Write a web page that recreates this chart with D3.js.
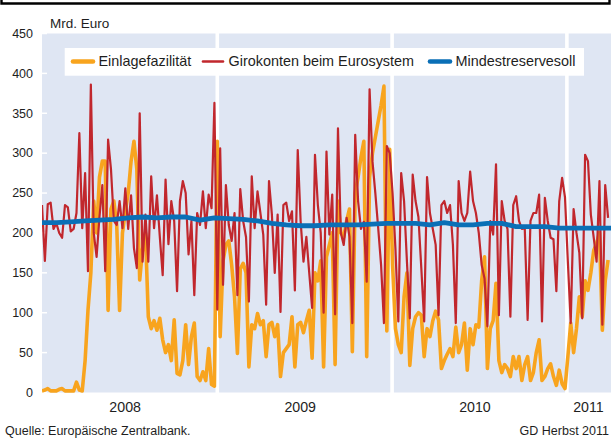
<!DOCTYPE html>
<html>
<head>
<meta charset="utf-8">
<script src="https://cdn.jsdelivr.net/npm/d3@7"></script>
<style>
    body { margin: 0; background: #fff; }
    svg { display: block; font-family: "Liberation Sans", Arial, sans-serif; }
</style>
</head>
<body>
<svg id="chart" width="612" height="438"></svg>
<script>
// Zeitachse: ein Wert alle 6 Tage ab Anfang 2008
const startDate = new Date(2008, 0, 1);
const endDate = new Date(2011, 3, 1);
const stepDays = 6;
const reserveStepDays = 30;

// Einlagefazilität, Mrd. Euro
const einlagefazilitaet = [
    2, 3, 5, 2, 2, 2, 4, 5, 2, 2, 2, 2, 13, 3, 2, 40, 103, 150, 240, 200,
    270, 290, 290, 103, 230, 240, 210, 103, 200, 227, 250, 290, 315, 280, 141, 180, 200, 95, 80, 90,
    78, 93, 66, 50, 60, 40, 91, 24, 22, 40, 85, 35, 70, 87, 20, 15, 26, 15, 55, 10,
    8, 315, 70, 165, 185, 190, 160, 120, 49, 155, 162, 150, 32, 85, 80, 99, 85, 90, 45, 85,
    88, 70, 85, 20, 50, 55, 60, 95, 32, 85, 88, 75, 90, 103, 43, 150, 140, 165, 32, 170,
    185, 200, 35, 240, 200, 195, 215, 230, 51, 250, 270, 295, 315, 45, 270, 300, 320, 340, 360, 384,
    77, 305, 160, 80, 60, 50, 120, 150, 34, 80, 95, 100, 97, 45, 80, 70, 90, 102, 91, 30,
    40, 48, 55, 45, 82, 50, 60, 87, 28, 80, 60, 85, 82, 140, 170, 30, 80, 90, 137, 40,
    25, 35, 30, 20, 45, 30, 45, 15, 35, 45, 15, 25, 50, 66, 15, 20, 30, 36, 20, 9,
    28, 11, 5, 45, 87, 50, 80, 120, 95, 140, 128, 150, 178, 187, 200, 78, 140, 166
];

// Girokonten beim Eurosystem, Mrd. Euro
const girokonten = [
    235, 165, 236, 238, 205, 212, 200, 194, 235, 232, 202, 205, 225, 325, 206, 275, 152, 386, 200, 170,
    220, 260, 152, 317, 280, 215, 210, 240, 206, 256, 205, 247, 181, 156, 350, 164, 223, 164, 271, 206,
    247, 195, 147, 267, 186, 240, 215, 127, 240, 265, 250, 173, 215, 122, 225, 210, 252, 206, 248, 231,
    363, 104, 306, 135, 260, 210, 190, 225, 122, 255, 215, 195, 114, 271, 206, 252, 225, 198, 110, 265,
    223, 150, 223, 101, 235, 238, 215, 227, 128, 304, 215, 164, 195, 150, 106, 298, 235, 200, 100, 302,
    198, 248, 98, 331, 200, 185, 219, 195, 87, 323, 240, 205, 214, 139, 380, 290, 250, 206, 160, 87,
    309, 300, 250, 180, 89, 275, 240, 164, 93, 273, 240, 220, 156, 89, 270, 225, 205, 185, 97, 235,
    240, 225, 235, 185, 87, 265, 225, 215, 225, 277, 240, 225, 200, 160, 143, 83, 215, 198, 286, 97,
    240, 215, 205, 95, 235, 246, 215, 205, 206, 91, 215, 225, 225, 248, 89, 244, 215, 194, 192, 127,
    240, 269, 245, 164, 87, 230, 200, 175, 93, 298, 290, 223, 194, 164, 265, 85, 260, 219
];

// Mindestreservesoll, Mrd. Euro (ein Wert alle 30 Tage)
const mindestreservesoll = [
    213, 213, 214, 215, 216, 217, 219, 220, 219, 220, 220, 216, 219, 218, 217, 215, 212, 210, 209, 209,
    210, 210, 210, 211, 212, 212, 212, 210, 213, 210, 210, 212, 212, 208, 208, 208, 206, 206, 206, 206, 206
];

const yearLabels = ["2008", "2009", "2010", "2011"];
const yTicks = [0, 50, 100, 150, 200, 250, 300, 350, 400, 450];

const seriesNames = ["Einlagefazilität", "Girokonten beim Eurosystem", "Mindestreservesoll"];
const colors = ["#f8a41e", "#c1272d", "#0a6fb6"];
const widths = [3.6, 2.2, 4.8];

const svg = d3.select("#chart");
const plotLeft = 42, plotRight = 610, plotTop = 33.5, plotBottom = 392.5;

const x = d3.scaleTime().domain([startDate, endDate]).range([plotLeft, plotRight]);
const y = d3.scaleLinear().domain([0, 450]).range([plotBottom, plotTop]);

// Rahmenlinie oben
svg.append("path")
    .attr("d", "M1.5,0V3.5H609.5V0")
    .attr("fill", "none")
    .attr("stroke", "#000")
    .attr("stroke-width", 2.4);

// Hintergrundflächen je Jahr
const gap = 3.6;
yearLabels.forEach((yr, i) => {
    const s = new Date(+yr, 0, 1), e = new Date(+yr + 1, 0, 1);
    let x0 = Math.max(x(s), plotLeft), x1 = Math.min(x(e), plotRight + 1);
    if (i > 0) x0 += gap / 2;
    if (x(e) < plotRight) x1 -= gap / 2;
    svg.append("rect")
        .attr("x", x0).attr("y", plotTop)
        .attr("width", x1 - x0).attr("height", plotBottom - plotTop)
        .attr("fill", "#dfe6f3");

    const mid = (Math.max(x(s), plotLeft) + Math.min(x(e), plotRight)) / 2;
    svg.append("text")
        .attr("x", x(e) < plotRight ? mid - 4.5 : mid)
        .attr("y", 412)
        .attr("text-anchor", "middle")
        .attr("font-size", "14.2px")
        .attr("fill", "#1e1e1e")
        .text(yr);
});

// y-Achse: weiße Striche und Beschriftung
svg.selectAll(".ytick")
    .data(yTicks)
    .enter().append("line")
    .attr("class", "ytick")
    .attr("x1", plotLeft).attr("x2", plotLeft + 5)
    .attr("y1", d => y(d)).attr("y2", d => y(d))
    .attr("stroke", "#fff")
    .attr("stroke-width", 1.5);

svg.selectAll(".ylabel")
    .data(yTicks)
    .enter().append("text")
    .attr("class", "ylabel")
    .attr("x", 33)
    .attr("y", d => y(d) + 4.3)
    .attr("text-anchor", "end")
    .attr("font-size", "12.5px")
    .attr("fill", "#1e1e1e")
    .text(d => d);

svg.append("text")
    .attr("x", 50).attr("y", 28)
    .attr("font-size", "13.5px")
    .attr("fill", "#1e1e1e")
    .text("Mrd. Euro");

// Linien
svg.append("clipPath").attr("id", "clip")
    .append("rect")
    .attr("x", plotLeft).attr("y", plotTop - 10)
    .attr("width", plotRight - plotLeft + 1).attr("height", plotBottom - plotTop + 12);

const plot = svg.append("g").attr("clip-path", "url(#clip)");

const line = step => d3.line()
    .x((d, i) => x(d3.timeDay.offset(startDate, i * step)))
    .y(d => y(d))
    .curve(d3.curveLinear);

const seriesData = [
    [einlagefazilitaet, stepDays],
    [girokonten, stepDays],
    [mindestreservesoll, reserveStepDays]
];

seriesData.forEach(([values, step], k) => {
    plot.append("path")
        .datum(values)
        .attr("d", line(step))
        .attr("fill", "none")
        .attr("stroke", colors[k])
        .attr("stroke-width", widths[k])
        .attr("stroke-linejoin", "round");
});

// Legende
const legend = svg.append("g");
legend.append("rect")
    .attr("x", 64.7).attr("y", 48)
    .attr("width", 519.3).attr("height", 27.7)
    .attr("fill", "#fff");

const legendX = [73, 203, 430];
seriesNames.forEach((name, k) => {
    legend.append("line")
        .attr("x1", legendX[k]).attr("x2", legendX[k] + 20)
        .attr("y1", 61.5).attr("y2", 61.5)
        .attr("stroke", colors[k])
        .attr("stroke-width", k === 1 ? 2.6 : 4.6)
        .attr("stroke-linecap", "round");
    legend.append("text")
        .attr("x", legendX[k] + 25.5)
        .attr("y", 66.3)
        .attr("font-size", "14.4px")
        .attr("fill", "#1e1e1e")
        .text(name);
});

// Fußzeile
svg.append("text")
    .attr("x", 5).attr("y", 435)
    .attr("font-size", "12.5px")
    .attr("fill", "#1e1e1e")
    .text("Quelle: Europäische Zentralbank.");

svg.append("text")
    .attr("x", 609).attr("y", 435)
    .attr("text-anchor", "end")
    .attr("font-size", "12.5px")
    .attr("fill", "#1e1e1e")
    .text("GD Herbst 2011");
</script>
</body>
</html>
